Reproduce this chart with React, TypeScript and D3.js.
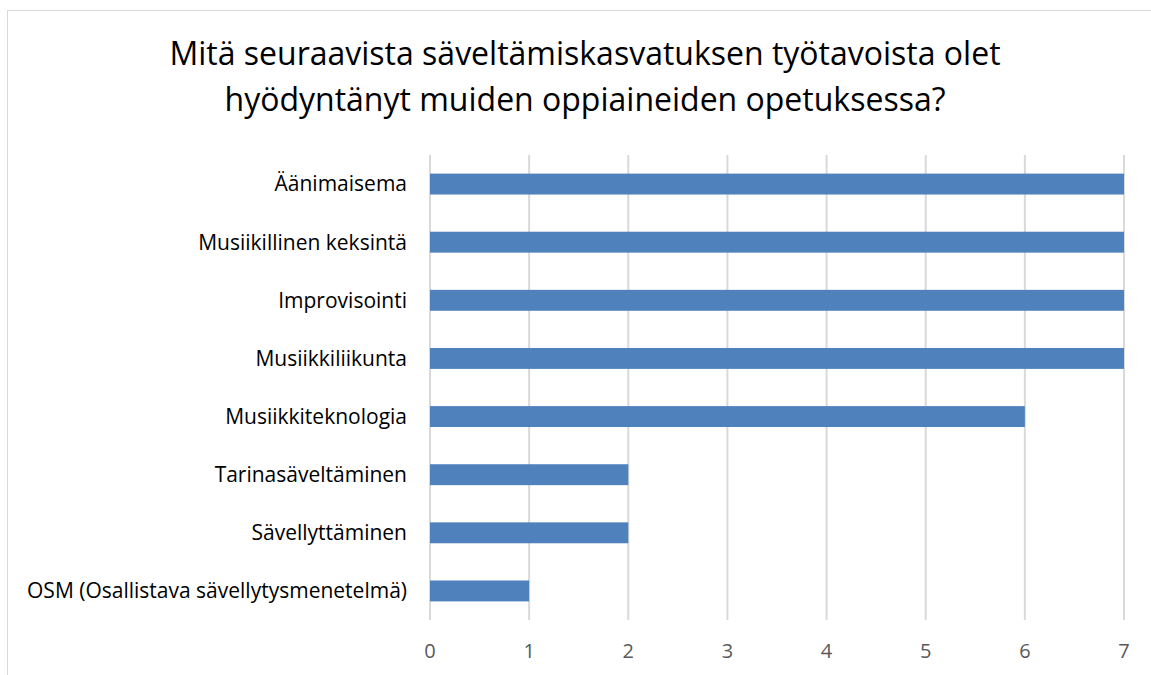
import React, { useEffect, useRef } from 'react';
import * as d3 from 'd3';

const categories = [
  'Äänimaisema',
  'Musiikillinen keksintä',
  'Improvisointi',
  'Musiikkiliikunta',
  'Musiikkiteknologia',
  'Tarinasäveltäminen',
  'Sävellyttäminen',
  'OSM (Osallistava sävellytysmenetelmä)',
];
const values = [7, 7, 7, 7, 6, 2, 2, 1];
const ticks = [0, 1, 2, 3, 4, 5, 6, 7];
const titleLines = [
  'Mitä seuraavista säveltämiskasvatuksen työtavoista olet',
  'hyödyntänyt muiden oppiaineiden opetuksessa?',
];

const W = 1151;
const H = 675;
const FONT = '"Open Sans", sans-serif';

const App = () => {
  const ref = useRef<SVGSVGElement>(null);

  useEffect(() => {
    const svg = d3.select(ref.current);
    svg.selectAll('*').remove();

    // chart frame (runs off the right/bottom edge)
    svg.append('rect')
      .attr('x', 7.5).attr('y', 10.5)
      .attr('width', W).attr('height', H)
      .attr('fill', '#fff')
      .attr('stroke', '#d9d9d9');

    const x = d3.scaleLinear().domain([0, 7]).range([430, 1124]);
    const y = d3.scaleBand().domain(categories).range([155, 620]).paddingInner(0.64).paddingOuter(0.32);

    // gridlines
    svg.append('g')
      .selectAll('line')
      .data(ticks)
      .enter()
      .append('line')
      .attr('x1', d => x(d)).attr('x2', d => x(d))
      .attr('y1', 155).attr('y2', 620)
      .attr('stroke', '#d9d9d9')
      .attr('stroke-width', 2);

    // bars
    svg.selectAll('.bar')
      .data(values)
      .enter()
      .append('rect')
      .attr('class', 'bar')
      .attr('x', x(0))
      .attr('y', (v, i) => y(categories[i])!)
      .attr('width', v => x(v) - x(0))
      .attr('height', y.bandwidth())
      .attr('fill', '#4f81bd');

    // category labels
    svg.append('g')
      .selectAll('text')
      .data(categories)
      .enter()
      .append('text')
      .attr('x', 407)
      .attr('y', d => y(d)! + y.bandwidth() / 2)
      .attr('dy', '0.35em')
      .attr('text-anchor', 'end')
      .attr('font-family', FONT)
      .attr('font-size', 21)
      .attr('fill', '#000')
      .text(d => d);

    // tick labels
    svg.append('g')
      .selectAll('text')
      .data(ticks)
      .enter()
      .append('text')
      .attr('x', d => x(d))
      .attr('y', 651)
      .attr('dy', '0.35em')
      .attr('text-anchor', 'middle')
      .attr('font-family', FONT)
      .attr('font-size', 20)
      .attr('fill', '#595959')
      .text(d => String(d));

    // title
    svg.append('g')
      .selectAll('text')
      .data(titleLines)
      .enter()
      .append('text')
      .attr('x', 585)
      .attr('y', (d, i) => 65 + i * 46)
      .attr('text-anchor', 'middle')
      .attr('font-family', FONT)
      .attr('font-size', 32)
      .attr('fill', '#000')
      .text(d => d);
  }, []);

  return (
    <svg ref={ref} width={W} height={H} style={{ position: 'absolute', left: 0, top: 0, background: '#fff' }}></svg>
  );
};

export default App;
